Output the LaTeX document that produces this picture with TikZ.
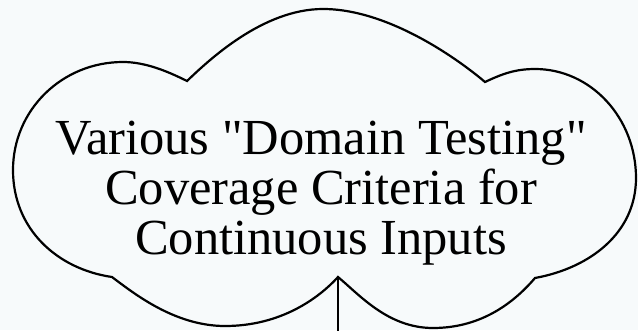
\documentclass[tikz,border=0pt]{standalone}
\usepackage{fontspec}
\setmainfont{Liberation Serif}
\usepackage{xcolor}
\usepackage{tkz-euclide}
\definecolor{cloudbg}{RGB}{247,250,251}
\tikzset{cloudline/.style={line width=2.2pt, black}}

\begin{document}
\begin{tikzpicture}[x=1pt,y=-1pt]
    \fill[cloudbg] (0,0) rectangle (638,330);
    \useasboundingbox (0,0) rectangle (638,330);
    \tkzDefPoint(112,277){k_1}
    \tkzDefPoint(187,81){k_2}
    \tkzDefPoint(485,82){k_3}
    \tkzDefPoint(535,278){k_4}
    \tkzDefPoint(338,277){k_5}
    \tkzDefPoint(338,332){b_1}
    \draw[cloudline] (k_1) .. controls (57,269) and (13,229) .. (13,170)
        .. controls (13,110) and (62,62) .. (123,62)
        .. controls (145,62) and (167,71) .. (k_2)
        .. controls (209,60) and (263,9) .. (323,9)
        .. controls (388,9) and (458,59) .. (k_3)
        .. controls (502,74) and (515,69) .. (535,69)
        .. controls (591,69) and (636,118) .. (636,178)
        .. controls (636,233) and (590,268) .. (k_4)
        .. controls (515.5,300.8) and (483,328) .. (433,328)
        .. controls (388,328) and (359.6,294.9) .. (k_5)
        .. controls (318,299) and (280,326) .. (225,326)
        .. controls (175,326) and (134.4,293.8) .. (k_1) -- cycle;
    \tkzDrawSegments[cloudline](k_5,b_1)
    \node[font=\fontsize{50.5}{50}\selectfont, align=center, inner sep=0pt] (label) at (321,193.5)
        {Various \textquotedbl Domain Testing\textquotedbl\\ Coverage Criteria for\\ Continuous Inputs};
\end{tikzpicture}
\end{document}
